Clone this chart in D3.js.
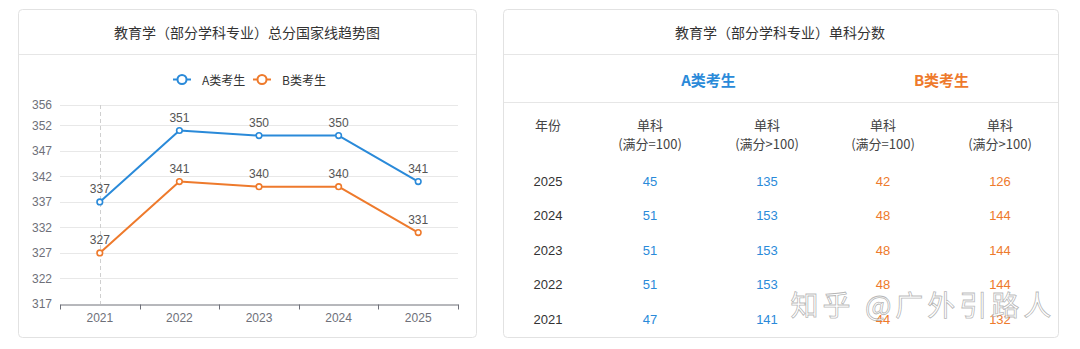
<!DOCTYPE html>
<html>
<head>
<meta charset="utf-8">
<script src="https://cdn.jsdelivr.net/npm/d3@7"></script>
<style>
  html, body { margin: 0; padding: 0; background: #fff; }
  svg { display: block; font-family: "Liberation Sans", Arial, "Noto Sans CJK SC", sans-serif; }
</style>
</head>
<body>
<svg id="chart" width="1080" height="349"></svg>
<script>
// ---- Data ----
const years = ["2021", "2022", "2023", "2024", "2025"];
const seriesA = [337, 351, 350, 350, 341];
const seriesB = [327, 341, 340, 340, 331];
const yTicks = [317, 322, 327, 332, 337, 342, 347, 352, 356];
const seriesNames = ["A类考生", "B类考生"];

const chartTitle = "教育学（部分学科专业）总分国家线趋势图";
const tableTitle = "教育学（部分学科专业）单科分数";
const tableYears = ["2025", "2024", "2023", "2022", "2021"];
const aSingle100 = [45, 51, 51, 51, 47];
const aSingleOver = [135, 153, 153, 153, 141];
const bSingle100 = [42, 48, 48, 48, 44];
const bSingleOver = [126, 144, 144, 144, 132];
const headerCols = ["年份", "单科", "单科", "单科", "单科"];
const headerSub = ["", "(满分=100)", "(满分>100)", "(满分=100)", "(满分>100)"];

const blue = "#2a8ad9";
const orange = "#ee7a2c";

const svg = d3.select("#chart");

// ---- Panels ----
function panel(x, y, w, h) {
  svg.append("rect").attr("x", x + 0.5).attr("y", y + 0.5).attr("width", w).attr("height", h)
    .attr("rx", 4).attr("fill", "#fff").attr("stroke", "#e2e2e2");
}
panel(18, 9, 458, 328);
panel(503, 9, 555, 328);

// ---- Left chart ----
svg.append("text").attr("x", 247).attr("y", 32).attr("text-anchor", "middle")
  .attr("dominant-baseline", "central").attr("font-size", 14).attr("fill", "#333")
  .attr("font-family", "Noto Sans CJK SC").text(chartTitle);
svg.append("line").attr("x1", 19).attr("x2", 476).attr("y1", 54.5).attr("y2", 54.5).attr("stroke", "#e6e6e6");

const x = d3.scaleBand().domain(years).range([60, 458]).padding(0);
const y = d3.scaleLinear().domain([317, 356]).range([304, 105]);
const cx = d => x(d) + x.bandwidth() / 2;

// y axis labels + grid lines
const yAxis = d3.axisLeft(y).tickValues(yTicks).tickSize(0).tickPadding(8).tickFormat(d3.format("d"));
const gy = svg.append("g").attr("transform", "translate(60,0)").call(yAxis);
gy.select(".domain").remove();
gy.selectAll("text").attr("fill", "#6e7079").attr("font-size", 12);
svg.append("g").selectAll("line").data(yTicks.filter(t => t !== 317)).join("line")
  .attr("x1", 60).attr("x2", 458).attr("y1", d => Math.round(y(d)) + 0.5).attr("y2", d => Math.round(y(d)) + 0.5)
  .attr("stroke", "#e8e8e8");

// dashed pointer line at first category
svg.append("line").attr("x1", Math.round(cx(years[0])) + 0.5).attr("x2", Math.round(cx(years[0])) + 0.5)
  .attr("y1", y(356)).attr("y2", y(317)).attr("stroke", "#cfcfcf").attr("stroke-dasharray", "4,3");

// x axis
const xAxis = d3.axisBottom(x).tickSize(0).tickPadding(9);
const gx = svg.append("g").attr("transform", `translate(0,${Math.round(y(317)) + 0.5})`).call(xAxis);
gx.select(".domain").attr("stroke", "#6e7079");
gx.selectAll("text").attr("fill", "#6e7079").attr("font-size", 12);
const boundaries = years.map(d => x(d)).concat([x(years[years.length - 1]) + x.bandwidth()]);
gx.selectAll(".bt").data(boundaries).join("line").attr("class", "bt")
  .attr("x1", d => Math.round(d) + 0.5).attr("x2", d => Math.round(d) + 0.5)
  .attr("y1", 0).attr("y2", 5).attr("stroke", "#6e7079");

// lines
const line = d3.line().x((d, i) => cx(years[i])).y(d => y(d));
[[seriesA, blue], [seriesB, orange]].forEach(([data, color]) => {
  svg.append("path").datum(data).attr("d", line).attr("fill", "none")
    .attr("stroke", color).attr("stroke-width", 2).attr("stroke-linejoin", "round");
  svg.append("g").selectAll("circle").data(data).join("circle")
    .attr("cx", (d, i) => cx(years[i])).attr("cy", d => y(d)).attr("r", 2.8)
    .attr("fill", "#fff").attr("stroke", color).attr("stroke-width", 1.6);
  svg.append("g").selectAll("text").data(data).join("text")
    .attr("x", (d, i) => cx(years[i])).attr("y", d => y(d) - 9)
    .attr("text-anchor", "middle").attr("font-size", 12).attr("fill", "#555").text(d => d);
});

// legend
const legend = svg.append("g");
[[blue, 182, 202], [orange, 262, 282]].forEach(([color, icx, tx], i) => {
  legend.append("line").attr("x1", icx - 9).attr("x2", icx + 9).attr("y1", 79.5).attr("y2", 79.5)
    .attr("stroke", color).attr("stroke-width", 2);
  legend.append("circle").attr("cx", icx).attr("cy", 79.5).attr("r", 4.5)
    .attr("fill", "#fff").attr("stroke", color).attr("stroke-width", 2);
  legend.append("text").attr("x", tx).attr("y", 79.5).attr("dominant-baseline", "central")
    .attr("font-size", 12).attr("fill", "#333").attr("font-family", "Noto Sans CJK SC")
    .text(seriesNames[i]);
});

// ---- Right table ----
svg.append("text").attr("x", 780).attr("y", 32).attr("text-anchor", "middle")
  .attr("dominant-baseline", "central").attr("font-size", 14).attr("fill", "#333")
  .attr("font-family", "Noto Sans CJK SC").text(tableTitle);
svg.append("line").attr("x1", 504).attr("x2", 1058).attr("y1", 54.5).attr("y2", 54.5).attr("stroke", "#e6e6e6");
svg.append("line").attr("x1", 504).attr("x2", 1058).attr("y1", 102.5).attr("y2", 102.5).attr("stroke", "#e6e6e6");

const colX = [548, 650, 767, 883, 1000];
svg.append("text").attr("x", (colX[1] + colX[2]) / 2).attr("y", 79).attr("text-anchor", "middle")
  .attr("dominant-baseline", "central").attr("font-size", 15).attr("font-weight", "bold")
  .attr("fill", blue).attr("font-family", "Noto Sans CJK SC").text(seriesNames[0]);
svg.append("text").attr("x", (colX[3] + colX[4]) / 2).attr("y", 79).attr("text-anchor", "middle")
  .attr("dominant-baseline", "central").attr("font-size", 15).attr("font-weight", "bold")
  .attr("fill", orange).attr("font-family", "Noto Sans CJK SC").text(seriesNames[1]);

headerCols.forEach((h, i) => {
  svg.append("text").attr("x", colX[i]).attr("y", 124).attr("text-anchor", "middle")
    .attr("dominant-baseline", "central").attr("font-size", 13).attr("fill", "#444")
    .attr("font-family", "Noto Sans CJK SC").text(h);
  if (headerSub[i]) {
    svg.append("text").attr("x", colX[i]).attr("y", 143).attr("text-anchor", "middle")
      .attr("dominant-baseline", "central").attr("font-size", 13).attr("fill", "#444")
      .attr("font-family", "Noto Sans CJK SC").text(headerSub[i]);
  }
});

const rowY = d3.scalePoint().domain(tableYears).range([181, 319]);
const cols = [
  [tableYears, "#333"],
  [aSingle100, blue],
  [aSingleOver, blue],
  [bSingle100, orange],
  [bSingleOver, orange]
];
cols.forEach(([vals, color], ci) => {
  svg.append("g").selectAll("text").data(vals).join("text")
    .attr("x", colX[ci]).attr("y", (d, i) => rowY(tableYears[i]))
    .attr("text-anchor", "middle").attr("dominant-baseline", "central")
    .attr("font-size", 13).attr("fill", color).text(d => d);
});

// watermark (present in the reference image)
svg.append("text").attr("x", 923).attr("y", 304).attr("text-anchor", "middle")
  .attr("dominant-baseline", "central").attr("font-size", 28).attr("font-family", "Noto Sans CJK SC")
  .attr("letter-spacing", 4)
  .attr("fill", "rgba(255,255,255,0.75)").attr("stroke", "rgba(120,120,120,0.55)").attr("stroke-width", 0.8)
  .text("知乎 @广外引路人");
</script>
</body>
</html>
